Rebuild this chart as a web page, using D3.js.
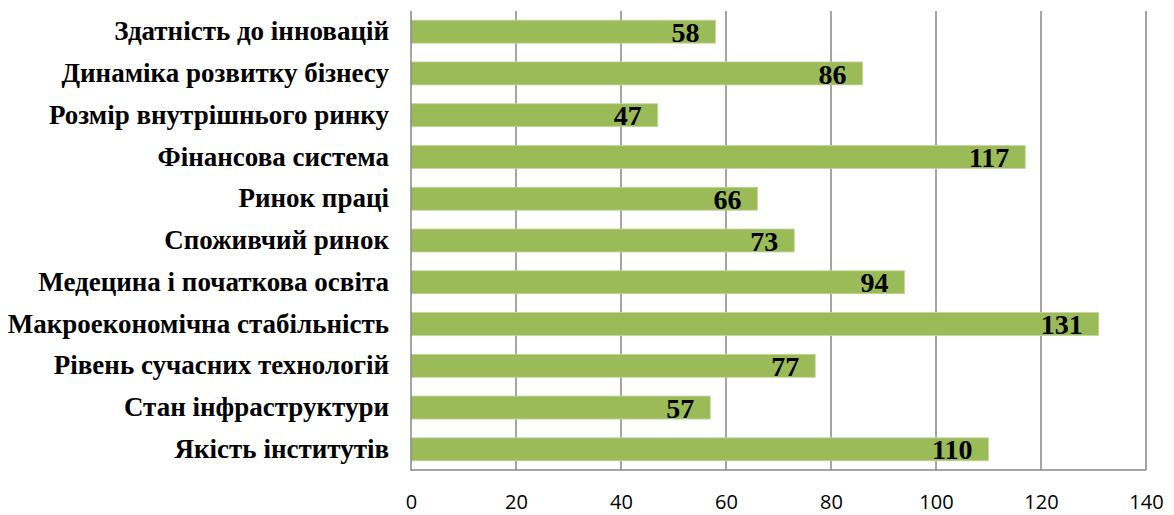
<!DOCTYPE html>
<html><head><meta charset="utf-8">
<script src="https://cdn.jsdelivr.net/npm/d3@7"></script>
<style>body{margin:0;background:#fff}</style>
</head><body>
<svg id="c" width="1174" height="515"></svg>
<script>
const categories = ["Здатність до інновацій","Динаміка розвитку бізнесу","Розмір внутрішнього ринку","Фінансова система","Ринок праці","Споживчий ринок","Медецина і початкова освіта","Макроекономічна стабільність","Рівень сучасних технологій","Стан інфраструктури","Якість інститутів"];
const values = [58,86,47,117,66,73,94,131,77,57,110];
const tickValues = [0,20,40,60,80,100,120,140];

const svg = d3.select("#c");
const m = {left:411, right:1146, top:11, bottom:470};
const x = d3.scaleLinear().domain([0,140]).range([m.left,m.right]);
const y = d3.scaleBand().domain(categories).range([m.top,m.bottom]).paddingInner(0.45).paddingOuter(0.22);

// gridlines
svg.append("g").selectAll("line").data(tickValues.slice(1)).join("line")
  .attr("x1",d=>x(d)).attr("x2",d=>x(d)).attr("y1",m.top).attr("y2",m.bottom)
  .attr("stroke","#878787").attr("stroke-width",1.5);

// bars
svg.append("g").selectAll("rect").data(values).join("rect")
  .attr("x",x(0)).attr("y",(d,i)=>y(categories[i]))
  .attr("width",d=>x(d)-x(0)).attr("height",y.bandwidth())
  .attr("fill","#9BBB59").attr("stroke","#C3D69B").attr("stroke-width",0.8);

// axes lines
svg.append("line").attr("x1",m.left).attr("x2",m.left).attr("y1",m.top).attr("y2",m.bottom+0.75).attr("stroke","#878787").attr("stroke-width",1.5);
svg.append("line").attr("x1",m.left).attr("x2",m.right).attr("y1",m.bottom).attr("y2",m.bottom).attr("stroke","#878787").attr("stroke-width",1.5);

// x axis labels
const xa = d3.axisBottom(x).tickValues(tickValues).tickSize(0).tickPadding(25);
const gx = svg.append("g").attr("transform",`translate(0,${m.bottom})`).call(xa);
gx.select(".domain").remove();
gx.selectAll("text").attr("font-family","'Open Sans', 'Liberation Sans', sans-serif").attr("font-size",20).attr("fill","#000");

// y labels
const ya = d3.axisLeft(y).tickSize(0).tickPadding(22);
const gy = svg.append("g").attr("transform",`translate(${m.left},0)`).call(ya);
gy.select(".domain").remove();
gy.selectAll("text").attr("font-family","'Liberation Serif', 'Times New Roman', serif").attr("font-weight","bold").attr("font-size",27).attr("fill","#000");

// value labels
svg.append("g").selectAll("text").data(values).join("text")
  .attr("x",d=>x(d)-16).attr("y",(d,i)=>y(categories[i])+y.bandwidth()/2)
  .attr("dy","0.36em").attr("text-anchor","end")
  .attr("font-family","'Liberation Serif', 'Times New Roman', serif").attr("font-weight","bold").attr("font-size",28)
  .text(d=>d);
</script>
</body></html>
